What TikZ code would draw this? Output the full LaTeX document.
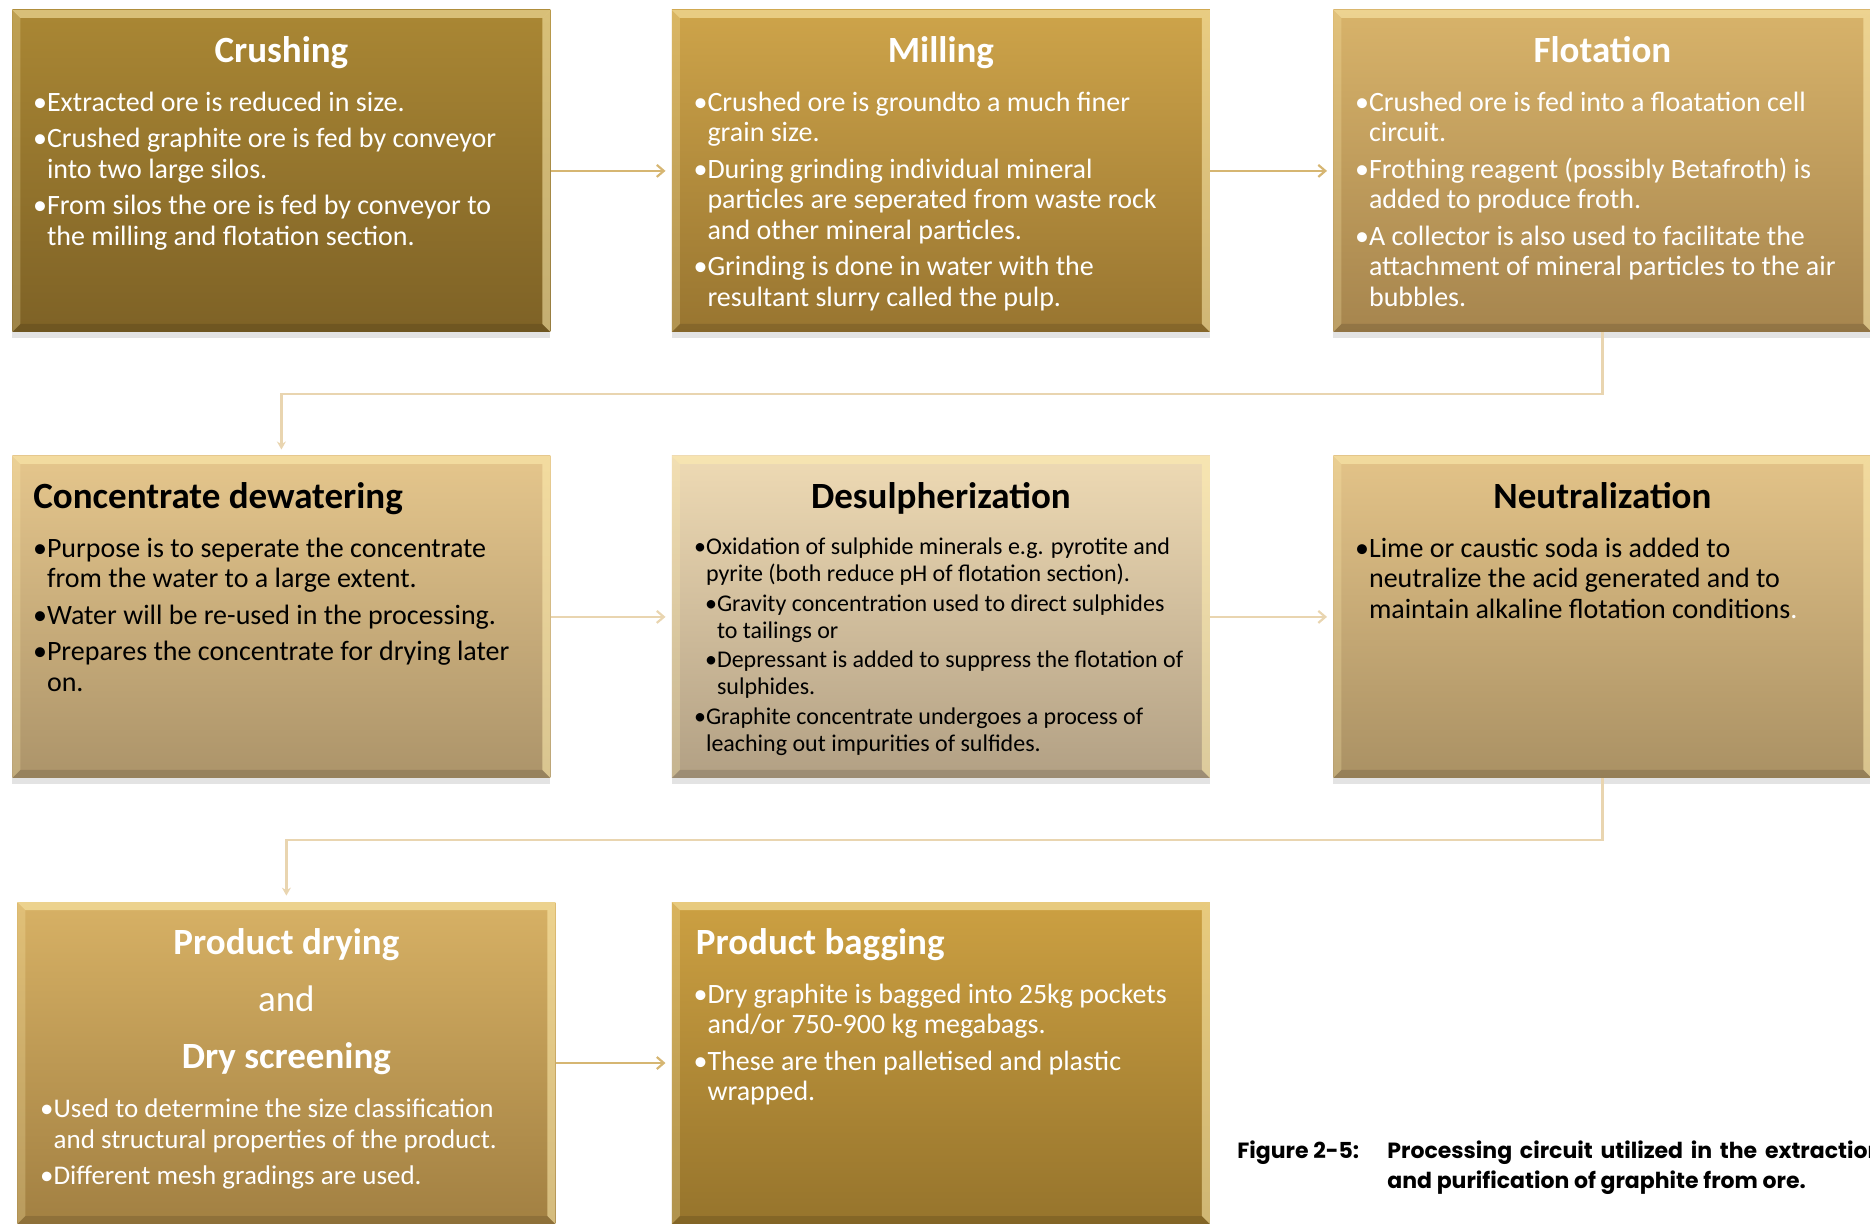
\documentclass[tikz,border=0pt]{standalone}
\usepackage{fontspec}
\setmainfont{Carlito}
\newfontfamily\capfont{Poppins}
\usetikzlibrary{arrows.meta,calc,positioning,shadows}

% box gradients, top and bottom
\definecolor{crushT}{RGB}{170,135,52}
\definecolor{crushB}{RGB}{126,98,38}
\definecolor{millT}{RGB}{206,164,74}
\definecolor{millB}{RGB}{152,117,48}
\definecolor{flotT}{RGB}{216,179,106}
\definecolor{flotB}{RGB}{166,133,78}
\definecolor{dewatT}{RGB}{229,198,140}
\definecolor{dewatB}{RGB}{172,148,106}
\definecolor{desulT}{RGB}{238,218,180}
\definecolor{desulB}{RGB}{178,160,132}
\definecolor{neutT}{RGB}{227,195,136}
\definecolor{neutB}{RGB}{170,145,100}
\definecolor{dryT}{RGB}{215,177,101}
\definecolor{dryB}{RGB}{162,128,66}
\definecolor{bagT}{RGB}{204,160,66}
\definecolor{bagB}{RGB}{150,116,44}
\definecolor{glint}{RGB}{255,238,176}
\definecolor{linkA}{RGB}{214,182,114}
\definecolor{linkB}{RGB}{233,213,176}

\newcommand{\bitem}{\strut\makebox[0.38em][l]{\hspace*{-0.12em}•}}
\newcommand{\bcont}{\strut\hspace*{0.38em}}

\tikzset{
  stage/.style={rectangle,anchor=north west,inner sep=0pt,
    minimum width=269pt,minimum height=161pt,
    drop shadow={shadow xshift=0pt,shadow yshift=-3pt,opacity=.22},
    path picture={
      \coordinate (bnw) at (path picture bounding box.north west);
      \coordinate (bne) at (path picture bounding box.north east);
      \coordinate (bsw) at (path picture bounding box.south west);
      \coordinate (bse) at (path picture bounding box.south east);
      \fill[glint,opacity=.55] (bnw) -- (bne) -- ([shift={(-4pt,-4pt)}]bne) -- ([shift={(4pt,-4pt)}]bnw) -- cycle;
      \fill[glint,opacity=.25] (bnw) -- ([shift={(4pt,-4pt)}]bnw) -- ([shift={(4pt,4pt)}]bsw) -- (bsw) -- cycle;
      \fill[glint,opacity=.55] (bne) -- (bse) -- ([shift={(-4pt,4pt)}]bse) -- ([shift={(-4pt,-4pt)}]bne) -- cycle;
      \fill[black,opacity=.12] (bsw) -- (bse) -- ([shift={(-4pt,4pt)}]bse) -- ([shift={(4pt,4pt)}]bsw) -- cycle;
    }},
  ttl/.style={anchor=base,inner sep=0pt,font=\fontsize{18.5}{22}\selectfont\bfseries},
  txt/.style={anchor=north west,inner sep=0pt,align=left,font=\fontsize{14}{15.25}\selectfont},
  flow/.style={line width=1.1pt,-{Straight Barb[length=3.5pt,width=6pt]},shorten >=3pt},
  turn/.style={line width=1.1pt,draw=linkB,-{Stealth[length=4pt,width=4.5pt]},shorten >=3pt},
  capnode/.style={anchor=base west,inner sep=0pt,font=\capfont\bfseries\fontsize{11}{13}\selectfont}
}

\begin{document}
\begin{tikzpicture}[x=0.5pt,y=0.5pt]
  \useasboundingbox (0,0) rectangle (1870,-1223);

  % first row
  \node[stage,top color=crushT,bottom color=crushB] (crush) at (12,-9.5) {};
  \node[stage,top color=millT,bottom color=millB] (mill) at (671.5,-9.5) {};
  \node[stage,top color=flotT,bottom color=flotB] (flot) at (1333,-9.5) {};

  \node[ttl,text=white] (crush-ttl) at ($(crush.north)+(0,-52.5)$) {Crushing};
  \node[txt,text=white] (crush-txt) at ($(crush.north west)+(24,-80)$) {%
    \bitem Extracted ore is reduced in size.\\[3pt]
    \bitem Crushed graphite ore is fed by conveyor\\
    \bcont into two large silos.\\[3pt]
    \bitem From silos the ore is fed by conveyor to\\
    \bcont the milling and flotation section.};

  \node[ttl,text=white] (mill-ttl) at ($(mill.north)+(0,-52.5)$) {Milling};
  \node[txt,text=white] (mill-txt) at ($(mill.north west)+(25,-80)$) {%
    \bitem Crushed ore is groundto a much finer\\
    \bcont grain size.\\[3pt]
    \bitem During grinding individual mineral\\
    \bcont particles are seperated from waste rock\\
    \bcont and other mineral particles.\\[3pt]
    \bitem Grinding is done in water with the\\
    \bcont resultant slurry called the pulp.};

  \node[ttl,text=white] (flot-ttl) at ($(flot.north)+(0,-52.5)$) {Flotation};
  \node[txt,text=white] (flot-txt) at ($(flot.north west)+(25,-80)$) {%
    \bitem Crushed ore is fed into a floatation cell\\
    \bcont circuit.\\[3pt]
    \bitem Frothing reagent (possibly Betafroth) is\\
    \bcont added to produce froth.\\[3pt]
    \bitem A collector is also used to facilitate the\\
    \bcont attachment of mineral particles to the air\\
    \bcont bubbles.};

  % second row
  \node[stage,top color=dewatT,bottom color=dewatB] (dewat) at (12,-455.5) {};
  \node[stage,top color=desulT,bottom color=desulB] (desul) at (671.5,-455.5) {};
  \node[stage,top color=neutT,bottom color=neutB] (neut) at (1333,-455.5) {};

  \node[ttl,anchor=base west] (dewat-ttl) at ($(dewat.north west)+(21,-52.5)$) {Concentrate dewatering};
  \node[txt] (dewat-txt) at ($(dewat.north west)+(24,-80)$) {%
    \bitem Purpose is to seperate the concentrate\\
    \bcont from the water to a large extent.\\[3pt]
    \bitem Water will be re-used in the processing.\\[3pt]
    \bitem Prepares the concentrate for drying later\\
    \bcont on.};

  \node[ttl] (desul-ttl) at ($(desul.north)+(0,-52.5)$) {Desulpherization};
  \node[txt,font=\fontsize{12}{13.4}\selectfont] (desul-txt) at ($(desul.north west)+(25,-80)$) {%
    \bitem Oxidation of sulphide minerals e.g. pyrotite and\\
    \bcont pyrite (both reduce pH of flotation section).\\[1.5pt]
    \hspace*{5.5pt}\bitem Gravity concentration used to direct sulphides\\
    \hspace*{5.5pt}\bcont to tailings or\\[1.5pt]
    \hspace*{5.5pt}\bitem Depressant is added to suppress the flotation of\\
    \hspace*{5.5pt}\bcont sulphides.\\[1.5pt]
    \bitem Graphite concentrate undergoes a process of\\
    \bcont leaching out impurities of sulfides.};

  \node[ttl] (neut-ttl) at ($(neut.north)+(0,-52.5)$) {Neutralization};
  \node[txt] (neut-txt) at ($(neut.north west)+(25,-80)$) {%
    \bitem Lime or caustic soda is added to\\
    \bcont neutralize the acid generated and to\\
    \bcont maintain alkaline flotation conditions\textcolor{white}{.}};

  % third row
  \node[stage,top color=dryT,bottom color=dryB] (dry) at (17,-901.6) {};
  \node[stage,top color=bagT,bottom color=bagB] (bag) at (671.5,-901.6) {};

  \node[ttl,text=white] (dry-ttl) at ($(dry.north)+(0,-52.5)$) {Product drying};
  \node[ttl,text=white,font=\fontsize{18.5}{22}\selectfont] (dry-and) at ($(dry.north)+(0,-110)$) {and};
  \node[ttl,text=white] (dry-ttl2) at ($(dry.north)+(0,-167)$) {Dry screening};
  \node[txt,text=white,font=\fontsize{13.5}{15.25}\selectfont] (dry-txt) at ($(dry.north west)+(26,-194.6)$) {%
    \bitem Used to determine the size classification\\
    \bcont and structural properties of the product.\\[3pt]
    \bitem Different mesh gradings are used.};

  \node[ttl,text=white,anchor=base west] (bag-ttl) at ($(bag.north west)+(24,-52.5)$) {Product bagging};
  \node[txt,text=white] (bag-txt) at ($(bag.north west)+(25,-80)$) {%
    \bitem Dry graphite is bagged into 25kg pockets\\
    \bcont and/or 750-900 kg megabags.\\[3pt]
    \bitem These are then palletised and plastic\\
    \bcont wrapped.};

  % connectors
  \draw[flow,draw=linkA] (crush) -- (mill);
  \draw[flow,draw=linkA] (mill) -- (flot);
  \draw[turn] (flot.south) -- ++(0,-61.5) -| (dewat.north);
  \draw[flow,draw=linkB] (dewat) -- (desul);
  \draw[flow,draw=linkB] (desul) -- (neut);
  \draw[turn] (neut.south) -- ++(0,-62) -| (dry.north);
  \draw[flow,draw=linkA] (dry) -- (bag);

  % caption
  \node[capnode] (fig-no) at (1237,-1158) {Figure 2-5:};
  \node[capnode] (fig-cap) at (1387,-1158) {\makebox[247.5pt][s]{Processing circuit utilized in the extraction}};
  \node[capnode] (fig-cap2) at (1387,-1188) {and purification of graphite from ore.};
\end{tikzpicture}
\end{document}
